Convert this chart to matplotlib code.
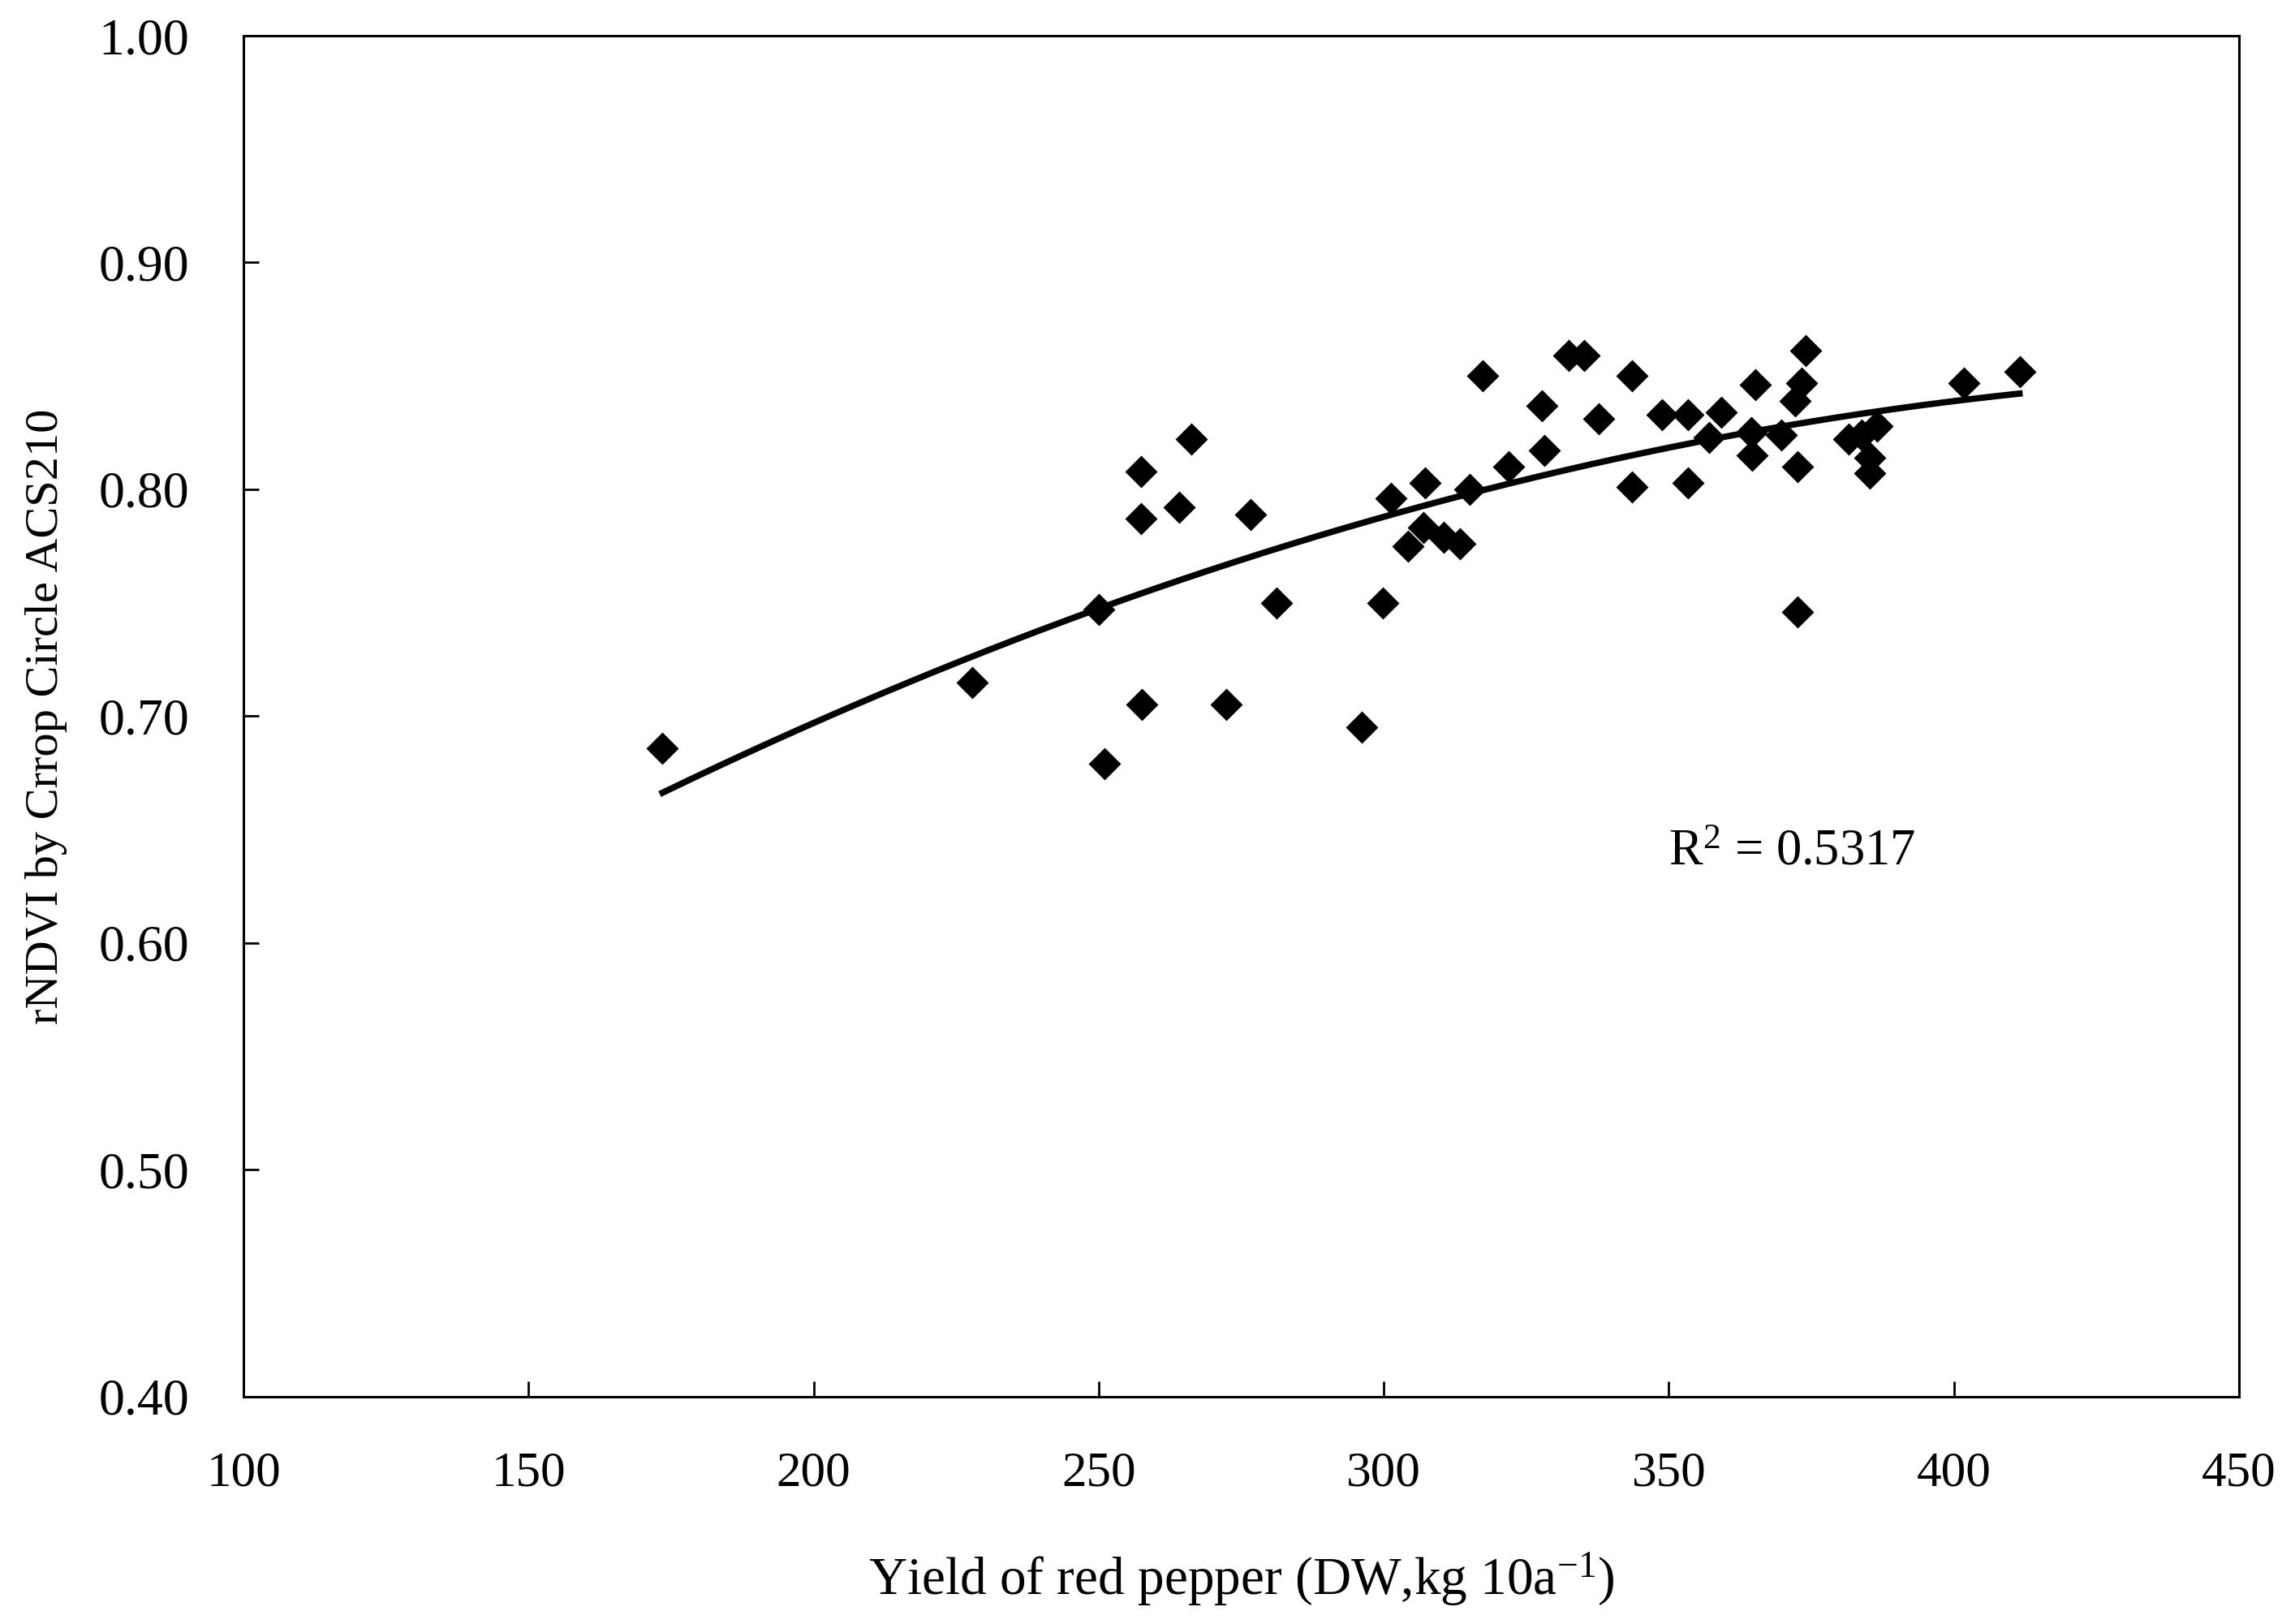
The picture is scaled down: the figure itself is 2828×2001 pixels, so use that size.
import matplotlib
matplotlib.use('Agg')
import matplotlib.pyplot as plt
import numpy as np

# Yield (DW, kg/10a) and rNDVI
yield_kg = [173.5, 227.8, 250.0, 251.0, 257.4, 257.4, 257.6, 264.1, 266.3, 272.3,
            276.7, 281.2, 296.2, 299.9, 301.2, 304.2, 307.2, 307.0, 310.5, 313.3,
            315.1, 317.4, 321.9, 327.8, 328.2, 332.5, 335.2, 337.7, 343.6, 343.6,
            348.8, 353.3, 353.3, 357.0, 359.2, 364.4, 364.6, 365.1, 369.7, 372.2,
            372.6, 372.6, 373.3, 374.0, 381.5, 383.8, 385.3, 385.3, 386.5, 401.8,
            411.5]
rndvi = [0.686, 0.715, 0.747, 0.679, 0.808, 0.787, 0.705, 0.792, 0.822, 0.705,
         0.789, 0.750, 0.695, 0.750, 0.796, 0.775, 0.803, 0.783, 0.779, 0.776,
         0.800, 0.850, 0.810, 0.837, 0.817, 0.859, 0.859, 0.831, 0.850, 0.801,
         0.833, 0.833, 0.803, 0.823, 0.834, 0.825, 0.815, 0.846, 0.824, 0.839,
         0.810, 0.746, 0.847, 0.861, 0.822, 0.824, 0.814, 0.807, 0.828, 0.847,
         0.852]
r2_label = 'R$^{2}$ = 0.5317'
xticks = [100, 150, 200, 250, 300, 350, 400, 450]
yticks = [0.40, 0.50, 0.60, 0.70, 0.80, 0.90, 1.00]

plt.rcParams['font.family'] = ['Liberation Serif', 'DejaVu Serif']
plt.rcParams['mathtext.fontset'] = 'custom'
plt.rcParams['mathtext.rm'] = 'Liberation Serif'
plt.rcParams['mathtext.it'] = 'Liberation Serif'

fig = plt.figure(figsize=(14.14, 10.005), dpi=200)
ax = fig.add_axes([0.1061, 0.140, 0.8695, 0.838])

ax.plot(yield_kg, rndvi, 'D', color='black', markersize=9, zorder=3)

# second-order trend line as in the spreadsheet chart
x = np.array(yield_kg)
coef = np.polyfit(x, np.array(rndvi), 2)
xs = np.linspace(x.min(), x.max(), 200)
ax.plot(xs, np.polyval(coef, xs), color='black', linewidth=2.8, zorder=2)

ax.text(350, 0.6346, r2_label, fontsize=22.5, va='baseline', ha='left')

ax.set_xlim(100, 450)
ax.set_ylim(0.40, 1.00)
ax.set_xticks(xticks)
ax.set_yticks(yticks)
ax.set_yticklabels(['%.2f' % v for v in yticks])
ax.tick_params(direction='in', length=7, width=1, labelsize=22, pad=24)
ax.tick_params(axis='y', labelsize=23)
for s in ax.spines.values():
    s.set_linewidth(1.1)

ax.set_xlabel('Yield of red pepper (DW,kg 10a$^{-1}$)', fontsize=23.5, labelpad=24)
ax.set_ylabel('rNDVI by Crrop Circle ACS210', fontsize=21, labelpad=14)

fig.savefig('out.png', dpi=200)
